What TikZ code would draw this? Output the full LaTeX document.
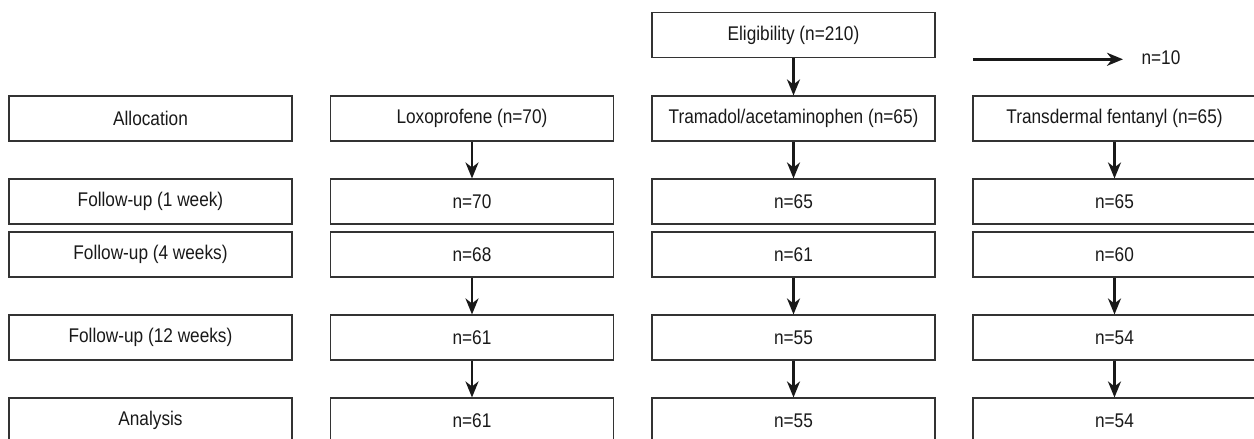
\documentclass[tikz,border=0pt]{standalone}
\usepackage{fontspec}
\setmainfont[FakeStretch=0.87]{Liberation Sans}
\usetikzlibrary{arrows.meta}
\begin{document}
\begin{tikzpicture}[x=1pt,y=-1pt,
  box/.style={draw=black!80, line width=1.1pt, minimum width=283pt, minimum height=45pt,
    inner sep=0pt, font=\fontsize{19.8}{22}\selectfont, text=black!90},
  lbl/.style={inner sep=0pt, font=\fontsize{19.8}{22}\selectfont, text=black!90},
  arr/.style={line width=2.4pt, draw=black!90, -{Stealth[length=16pt,width=13pt,inset=5pt]}}]
\useasboundingbox (0,0) rectangle (1254,439);
% columns: 150.5, 472, 793.5, 1114.5
\node[box] (elig) at (793.5,35) {Eligibility (n=210)};
\coordinate (exs) at (973,59.3);
\coordinate (exe) at (1123,59.3);
\node[lbl] (excl) at (1161,58) {n=10};

\node[box] (alloc) at (150.5,118.5) {Allocation};
\node[box] (lox) at (472,118.5) {Loxoprofene (n=70)};
\node[box] (tra) at (793.5,118.5) {Tramadol/acetaminophen (n=65)};
\node[box] (fen) at (1114.5,118.5) {Transdermal fentanyl (n=65)};

\node[box] (f1) at (150.5,201.5) {Follow-up (1 week)};
\node[box] (lox1) at (472,201.5) {n=70};
\node[box] (tra1) at (793.5,201.5) {n=65};
\node[box] (fen1) at (1114.5,201.5) {n=65};

\node[box] (f4) at (150.5,254.5) {Follow-up (4 weeks)};
\node[box] (lox4) at (472,254.5) {n=68};
\node[box] (tra4) at (793.5,254.5) {n=61};
\node[box] (fen4) at (1114.5,254.5) {n=60};

\node[box] (f12) at (150.5,337.5) {Follow-up (12 weeks)};
\node[box] (lox12) at (472,337.5) {n=61};
\node[box] (tra12) at (793.5,337.5) {n=55};
\node[box] (fen12) at (1114.5,337.5) {n=54};

\node[box] (an) at (150.5,420.5) {Analysis};
\node[box] (loxa) at (472,420.5) {n=61};
\node[box] (traa) at (793.5,420.5) {n=55};
\node[box] (fena) at (1114.5,420.5) {n=54};

\draw[arr] (elig.south) -- (tra.north);
\draw[arr] (exs) -- (exe);
\foreach \c in {lox,tra,fen}{
  \draw[arr] (\c.south) -- (\c1.north);
  \draw[arr] (\c4.south) -- (\c12.north);
  \draw[arr] (\c12.south) -- (\c a.north);
}
\end{tikzpicture}
\end{document}
